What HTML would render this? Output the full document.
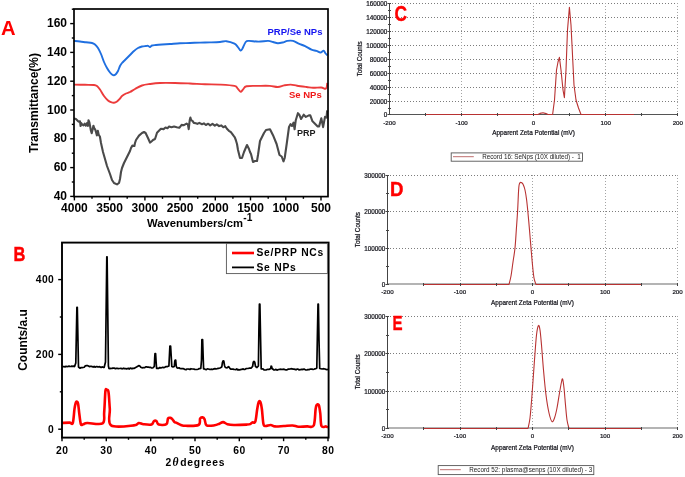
<!DOCTYPE html>
<html><head><meta charset="utf-8"><style>
html,body{margin:0;padding:0;background:#fff;width:685px;height:477px;overflow:hidden;}
svg{display:block;will-change:transform;}
</style></head><body>
<svg width="685" height="477" viewBox="0 0 685 477">
<g id="A">
<text x="1" y="35.3" fill="#ff0000" font-size="20.2" font-weight="bold" font-family="Liberation Sans, sans-serif">A</text>
<polyline points="74.0,118.4 75.9,119.0 77.7,120.8 78.8,121.6 80.0,121.3 80.6,126.0 81.2,123.1 82.3,124.6 83.5,125.4 84.7,123.7 85.8,125.7 87.0,123.1 87.9,126.0 88.5,120.2 89.4,122.5 90.2,126.6 90.8,130.1 91.7,133.3 92.6,129.5 93.4,125.7 94.3,128.4 95.2,129.5 96.1,132.4 96.9,135.4 97.8,130.7 98.7,134.8 99.9,136.5 101.0,143.0 103.0,152.0 105.0,159.0 107.0,166.0 110.0,174.0 112.0,180.0 114.0,183.0 117.0,184.4 119.0,183.0 120.0,179.0 121.0,172.0 122.0,168.0 124.0,163.0 127.0,157.0 130.0,151.0 131.0,148.0 132.4,145.6 134.4,146.0 135.0,143.0 136.0,140.0 139.0,135.6 142.0,133.0 144.0,132.0 145.6,133.0 148.0,138.0 150.0,142.6 152.0,141.0 153.0,140.0 155.0,139.0 156.0,136.0 157.0,132.8 160.9,128.8 163.6,129.1 165.5,127.5 167.5,128.2 169.1,126.5 171.4,127.2 174.1,126.5 176.7,127.2 179.3,127.8 181.6,124.9 183.9,125.2 186.6,123.6 187.9,124.5 188.7,129.1 189.7,120.3 190.4,117.6 191.2,120.3 192.5,120.9 193.8,122.9 195.8,123.2 197.4,123.9 199.3,122.9 202.0,124.2 203.9,123.4 205.9,125.0 208.2,123.7 210.2,125.4 212.5,123.9 214.8,125.7 216.8,124.3 219.1,126.1 221.4,125.4 223.3,127.2 225.3,126.2 226.9,128.8 228.9,130.8 230.9,132.1 232.2,133.8 233.5,135.7 234.8,137.4 235.8,140.0 237.0,144.0 238.0,150.0 240.0,158.0 242.0,158.0 244.0,152.0 247.0,145.0 249.0,149.0 250.0,152.0 251.0,154.0 253.0,162.0 255.0,161.0 257.0,161.0 258.0,155.0 260.0,141.0 262.0,137.0 264.0,133.0 266.0,130.0 270.0,129.3 273.0,135.2 276.6,144.0 279.5,155.0 281.7,156.5 283.5,161.3 284.7,158.0 286.9,142.5 289.0,127.0 290.5,124.2 292.0,126.0 293.5,122.7 294.6,129.3 295.7,120.5 297.9,113.2 299.3,114.7 301.1,119.0 303.7,114.7 305.9,116.9 308.9,115.4 310.3,115.4 312.5,121.3 314.0,122.7 317.7,126.4 319.1,126.4 321.3,118.3 323.1,127.1 325.0,116.9 326.5,117.6 327.2,110.3" fill="none" stroke="#4a4a4a" stroke-width="2.1" stroke-linejoin="round"/>
<path d="M74.0,84.6 C75.83,84.63 81.67,84.73 85.0,84.8 C88.33,84.87 92.00,84.80 94.0,85.0 C96.00,85.20 96.00,85.25 97.0,86.0 C98.00,86.75 98.83,87.83 100.0,89.5 C101.17,91.17 102.67,94.17 104.0,96.0 C105.33,97.83 106.83,99.47 108.0,100.5 C109.17,101.53 110.00,101.82 111.0,102.2 C112.00,102.58 113.00,102.92 114.0,102.8 C115.00,102.68 116.00,102.22 117.0,101.5 C118.00,100.78 119.17,99.42 120.0,98.5 C120.83,97.58 121.00,96.83 122.0,96.0 C123.00,95.17 124.67,94.17 126.0,93.5 C127.33,92.83 128.50,92.75 130.0,92.0 C131.50,91.25 133.00,90.08 135.0,89.0 C137.00,87.92 139.50,86.33 142.0,85.5 C144.50,84.67 147.00,84.42 150.0,84.0 C153.00,83.58 155.83,83.17 160.0,83.0 C164.17,82.83 170.00,82.92 175.0,83.0 C180.00,83.08 185.00,83.30 190.0,83.5 C195.00,83.70 200.00,84.02 205.0,84.2 C210.00,84.38 215.08,84.32 220.0,84.6 C224.92,84.88 231.55,85.23 234.5,85.9 C237.45,86.57 236.68,87.62 237.7,88.6 C238.72,89.58 239.67,91.72 240.6,91.8 C241.53,91.88 242.32,90.03 243.3,89.1 C244.28,88.17 243.97,86.73 246.5,86.2 C249.03,85.67 254.62,85.95 258.5,85.9 C262.38,85.85 266.58,85.72 269.8,85.9 C273.02,86.08 275.40,87.08 277.8,87.0 C280.20,86.92 282.05,85.80 284.2,85.4 C286.35,85.00 288.55,84.55 290.7,84.6 C292.85,84.65 294.43,85.30 297.1,85.7 C299.77,86.10 304.03,86.65 306.7,87.0 C309.37,87.35 310.68,87.72 313.1,87.8 C315.52,87.88 319.05,87.37 321.2,87.5 C323.35,87.63 324.98,89.35 326.0,88.6 C327.02,87.85 327.08,83.93 327.3,83.0" fill="none" stroke="#ec3b3b" stroke-width="1.9" stroke-linejoin="round"/>
<path d="M74.0,41.0 C75.00,41.08 78.00,41.28 80.0,41.5 C82.00,41.72 84.00,42.05 86.0,42.3 C88.00,42.55 90.50,42.63 92.0,43.0 C93.50,43.37 94.00,43.67 95.0,44.5 C96.00,45.33 97.00,46.42 98.0,48.0 C99.00,49.58 100.00,51.67 101.0,54.0 C102.00,56.33 103.00,59.67 104.0,62.0 C105.00,64.33 106.00,66.25 107.0,68.0 C108.00,69.75 109.17,71.42 110.0,72.5 C110.83,73.58 111.33,74.05 112.0,74.5 C112.67,74.95 113.33,75.28 114.0,75.2 C114.67,75.12 115.33,74.70 116.0,74.0 C116.67,73.30 117.33,72.33 118.0,71.0 C118.67,69.67 119.33,67.33 120.0,66.0 C120.67,64.67 121.17,64.00 122.0,63.0 C122.83,62.00 124.00,61.00 125.0,60.0 C126.00,59.00 127.00,58.00 128.0,57.0 C129.00,56.00 130.00,55.00 131.0,54.0 C132.00,53.00 132.83,52.00 134.0,51.0 C135.17,50.00 136.67,48.75 138.0,48.0 C139.33,47.25 140.67,46.83 142.0,46.5 C143.33,46.17 145.00,46.12 146.0,46.0 C147.00,45.88 147.33,45.63 148.0,45.8 C148.67,45.97 149.33,47.05 150.0,47.0 C150.67,46.95 151.00,45.83 152.0,45.5 C153.00,45.17 154.33,45.17 156.0,45.0 C157.67,44.83 159.67,44.67 162.0,44.5 C164.33,44.33 167.00,44.20 170.0,44.0 C173.00,43.80 176.67,43.47 180.0,43.3 C183.33,43.13 186.67,43.12 190.0,43.0 C193.33,42.88 196.67,42.70 200.0,42.6 C203.33,42.50 206.67,42.50 210.0,42.4 C213.33,42.30 217.27,42.20 220.0,42.0 C222.73,41.80 223.98,40.92 226.4,41.2 C228.82,41.48 232.62,42.75 234.5,43.7 C236.38,44.65 236.68,45.75 237.7,46.9 C238.72,48.05 239.80,50.33 240.6,50.6 C241.40,50.87 241.65,49.93 242.5,48.5 C243.35,47.07 244.63,43.27 245.7,42.0 C246.77,40.73 246.77,40.97 248.9,40.9 C251.03,40.83 255.28,41.60 258.5,41.6 C261.72,41.60 265.78,40.83 268.2,40.9 C270.62,40.97 271.40,41.62 273.0,42.0 C274.60,42.38 276.20,43.12 277.8,43.2 C279.40,43.28 281.00,42.88 282.6,42.5 C284.20,42.12 285.67,41.17 287.4,40.9 C289.13,40.63 291.12,40.43 293.0,40.9 C294.88,41.37 296.68,42.83 298.7,43.7 C300.72,44.57 302.97,45.12 305.1,46.1 C307.23,47.08 309.62,48.80 311.5,49.6 C313.38,50.40 314.92,50.42 316.4,50.9 C317.88,51.38 319.20,52.55 320.4,52.5 C321.60,52.45 322.80,50.52 323.6,50.6 C324.40,50.68 324.58,52.20 325.2,53.0 C325.82,53.80 326.95,55.00 327.3,55.4" fill="none" stroke="#1f6fe0" stroke-width="1.9" stroke-linejoin="round"/>
<rect x="74.0" y="9.0" width="254.0" height="187.6" fill="none" stroke="#000" stroke-width="1.7"/>
<line x1="70.2" y1="196.4" x2="74.0" y2="196.4" stroke="#000" stroke-width="1.4"/>
<text x="67" y="200.0" text-anchor="end" font-size="12" font-weight="bold" font-family="Liberation Sans, sans-serif">40</text>
<line x1="71.8" y1="182.0" x2="74.0" y2="182.0" stroke="#000" stroke-width="1.4"/>
<line x1="70.2" y1="167.6" x2="74.0" y2="167.6" stroke="#000" stroke-width="1.4"/>
<text x="67" y="171.2" text-anchor="end" font-size="12" font-weight="bold" font-family="Liberation Sans, sans-serif">60</text>
<line x1="71.8" y1="153.2" x2="74.0" y2="153.2" stroke="#000" stroke-width="1.4"/>
<line x1="70.2" y1="138.8" x2="74.0" y2="138.8" stroke="#000" stroke-width="1.4"/>
<text x="67" y="142.4" text-anchor="end" font-size="12" font-weight="bold" font-family="Liberation Sans, sans-serif">80</text>
<line x1="71.8" y1="124.4" x2="74.0" y2="124.4" stroke="#000" stroke-width="1.4"/>
<line x1="70.2" y1="110.0" x2="74.0" y2="110.0" stroke="#000" stroke-width="1.4"/>
<text x="67" y="113.6" text-anchor="end" font-size="12" font-weight="bold" font-family="Liberation Sans, sans-serif">100</text>
<line x1="71.8" y1="95.6" x2="74.0" y2="95.6" stroke="#000" stroke-width="1.4"/>
<line x1="70.2" y1="81.2" x2="74.0" y2="81.2" stroke="#000" stroke-width="1.4"/>
<text x="67" y="84.8" text-anchor="end" font-size="12" font-weight="bold" font-family="Liberation Sans, sans-serif">120</text>
<line x1="71.8" y1="66.8" x2="74.0" y2="66.8" stroke="#000" stroke-width="1.4"/>
<line x1="70.2" y1="52.4" x2="74.0" y2="52.4" stroke="#000" stroke-width="1.4"/>
<text x="67" y="56.0" text-anchor="end" font-size="12" font-weight="bold" font-family="Liberation Sans, sans-serif">140</text>
<line x1="71.8" y1="38.0" x2="74.0" y2="38.0" stroke="#000" stroke-width="1.4"/>
<line x1="70.2" y1="23.6" x2="74.0" y2="23.6" stroke="#000" stroke-width="1.4"/>
<text x="67" y="27.2" text-anchor="end" font-size="12" font-weight="bold" font-family="Liberation Sans, sans-serif">160</text>
<line x1="71.8" y1="9.2" x2="74.0" y2="9.2" stroke="#000" stroke-width="1.4"/>
<line x1="74.4" y1="196.6" x2="74.4" y2="200.4" stroke="#000" stroke-width="1.4"/>
<text x="74.4" y="211.8" text-anchor="middle" font-size="12" font-weight="bold" font-family="Liberation Sans, sans-serif">4000</text>
<line x1="92.0" y1="196.6" x2="92.0" y2="198.8" stroke="#000" stroke-width="1.4"/>
<line x1="109.6" y1="196.6" x2="109.6" y2="200.4" stroke="#000" stroke-width="1.4"/>
<text x="109.6" y="211.8" text-anchor="middle" font-size="12" font-weight="bold" font-family="Liberation Sans, sans-serif">3500</text>
<line x1="127.2" y1="196.6" x2="127.2" y2="198.8" stroke="#000" stroke-width="1.4"/>
<line x1="144.9" y1="196.6" x2="144.9" y2="200.4" stroke="#000" stroke-width="1.4"/>
<text x="144.9" y="211.8" text-anchor="middle" font-size="12" font-weight="bold" font-family="Liberation Sans, sans-serif">3000</text>
<line x1="162.5" y1="196.6" x2="162.5" y2="198.8" stroke="#000" stroke-width="1.4"/>
<line x1="180.1" y1="196.6" x2="180.1" y2="200.4" stroke="#000" stroke-width="1.4"/>
<text x="180.1" y="211.8" text-anchor="middle" font-size="12" font-weight="bold" font-family="Liberation Sans, sans-serif">2500</text>
<line x1="197.7" y1="196.6" x2="197.7" y2="198.8" stroke="#000" stroke-width="1.4"/>
<line x1="215.3" y1="196.6" x2="215.3" y2="200.4" stroke="#000" stroke-width="1.4"/>
<text x="215.3" y="211.8" text-anchor="middle" font-size="12" font-weight="bold" font-family="Liberation Sans, sans-serif">2000</text>
<line x1="232.9" y1="196.6" x2="232.9" y2="198.8" stroke="#000" stroke-width="1.4"/>
<line x1="250.5" y1="196.6" x2="250.5" y2="200.4" stroke="#000" stroke-width="1.4"/>
<text x="250.5" y="211.8" text-anchor="middle" font-size="12" font-weight="bold" font-family="Liberation Sans, sans-serif">1500</text>
<line x1="268.2" y1="196.6" x2="268.2" y2="198.8" stroke="#000" stroke-width="1.4"/>
<line x1="285.8" y1="196.6" x2="285.8" y2="200.4" stroke="#000" stroke-width="1.4"/>
<text x="285.8" y="211.8" text-anchor="middle" font-size="12" font-weight="bold" font-family="Liberation Sans, sans-serif">1000</text>
<line x1="303.4" y1="196.6" x2="303.4" y2="198.8" stroke="#000" stroke-width="1.4"/>
<line x1="321.0" y1="196.6" x2="321.0" y2="200.4" stroke="#000" stroke-width="1.4"/>
<text x="321.0" y="211.8" text-anchor="middle" font-size="12" font-weight="bold" font-family="Liberation Sans, sans-serif">500</text>
<text x="147" y="227.4" font-size="11.2" font-weight="bold" font-family="Liberation Sans, sans-serif" textLength="96" lengthAdjust="spacingAndGlyphs">Wavenumbers/cm</text>
<text x="243.3" y="221.0" font-size="10.2" font-weight="bold" font-family="Liberation Sans, sans-serif">-1</text>
<text transform="translate(37.6,103) rotate(-90)" text-anchor="middle" font-size="12" font-weight="bold" font-family="Liberation Sans, sans-serif">Transmittance(%)</text>
<text x="267.5" y="34.9" fill="#1414f0" font-size="9.5" font-weight="bold" font-family="Liberation Sans, sans-serif">PRP/Se NPs</text>
<text x="289" y="97.8" fill="#f01818" font-size="9.5" font-weight="bold" font-family="Liberation Sans, sans-serif">Se NPs</text>
<text x="296.9" y="135.8" fill="#1a1a1a" font-size="9" font-weight="bold" font-family="Liberation Sans, sans-serif">PRP</text>
</g>
<g id="B">
<text transform="translate(13.4,260.9) scale(0.79,1)" fill="#ff0000" stroke="#ff0000" stroke-width="0.5" font-size="20.8" font-weight="bold" font-family="Liberation Sans, sans-serif">B</text>
<path d="M62.0,423.0 C63.27,422.93 67.80,422.60 69.6,422.6 C71.40,422.60 71.98,425.28 72.8,423.0 C73.62,420.72 73.97,412.37 74.5,408.9 C75.03,405.43 75.42,403.13 76.0,402.2 C76.58,401.27 77.45,401.38 78.0,403.3 C78.55,405.22 78.82,410.22 79.3,413.7 C79.78,417.18 80.23,422.45 80.9,424.2 C81.57,425.95 82.23,424.40 83.3,424.2 C84.37,424.00 84.08,423.13 87.3,423.0 C90.52,422.87 99.78,425.22 102.6,423.4 C105.42,421.58 103.73,417.47 104.2,412.1 C104.67,406.73 105.00,394.88 105.4,391.2 C105.80,387.52 106.08,389.87 106.6,390.0 C107.12,390.13 107.97,388.85 108.5,392.0 C109.03,395.15 109.37,403.33 109.8,408.9 C110.23,414.47 107.08,422.65 111.1,425.4 C115.12,428.15 129.30,425.80 133.9,425.4 C138.50,425.00 137.10,423.20 138.7,423.0 C140.30,422.80 141.37,423.95 143.5,424.2 C145.63,424.45 149.75,425.03 151.5,424.5 C153.25,423.97 153.18,421.58 154.0,421.0 C154.82,420.42 155.60,420.40 156.4,421.0 C157.20,421.60 157.13,424.07 158.8,424.6 C160.47,425.13 164.87,425.22 166.4,424.2 C167.93,423.18 167.33,419.55 168.0,418.5 C168.67,417.45 169.65,417.77 170.4,417.9 C171.15,418.03 171.82,418.60 172.5,419.3 C173.18,420.00 173.90,421.55 174.5,422.1 C175.10,422.65 175.03,422.12 176.1,422.6 C177.17,423.08 179.30,424.47 180.9,425.0 C182.50,425.53 182.77,425.80 185.7,425.8 C188.63,425.80 196.10,426.22 198.5,425.0 C200.90,423.78 199.42,419.77 200.1,418.5 C200.78,417.23 201.85,417.27 202.6,417.4 C203.35,417.53 203.93,417.97 204.6,419.3 C205.27,420.63 204.93,424.40 206.6,425.4 C208.27,426.40 212.47,425.58 214.6,425.3 C216.73,425.02 217.98,424.23 219.4,423.7 C220.82,423.17 221.77,422.02 223.1,422.1 C224.43,422.18 225.60,423.72 227.4,424.2 C229.20,424.68 230.68,424.93 233.9,425.0 C237.12,425.07 243.98,424.75 246.7,424.6 C249.42,424.45 249.25,424.48 250.2,424.1 C251.15,423.72 251.55,422.72 252.4,422.3 C253.25,421.88 254.50,423.78 255.3,421.6 C256.10,419.42 256.63,412.48 257.2,409.2 C257.77,405.92 258.17,403.12 258.7,401.9 C259.23,400.68 259.87,400.68 260.4,401.9 C260.93,403.12 261.40,405.55 261.9,409.2 C262.40,412.85 262.80,421.00 263.4,423.8 C264.00,426.60 264.28,425.80 265.5,426.0 C266.72,426.20 269.12,424.93 270.7,425.0 C272.28,425.07 272.82,426.23 275.0,426.4 C277.18,426.57 280.87,426.15 283.8,426.0 C286.73,425.85 290.17,425.38 292.6,425.5 C295.03,425.62 295.97,426.55 298.4,426.7 C300.83,426.85 304.65,426.60 307.2,426.4 C309.75,426.20 312.30,428.37 313.7,425.5 C315.10,422.63 315.12,412.60 315.6,409.2 C316.08,405.80 316.07,405.78 316.6,405.1 C317.13,404.42 318.18,403.68 318.8,405.1 C319.42,406.52 319.85,410.12 320.3,413.6 C320.75,417.08 320.53,423.87 321.5,426.0 C322.47,428.13 325.02,426.17 326.1,426.4 C327.18,426.63 327.68,427.23 328.0,427.4" fill="none" stroke="#ff0000" stroke-width="2.6" stroke-linejoin="round"/>
<polyline points="62.0,366.9 63.0,366.7 64.0,366.5 65.0,366.9 66.0,366.3 67.0,366.7 68.0,366.5 69.0,366.1 70.0,366.5 70.9,366.5 71.8,366.1 72.7,366.5 73.6,366.1 74.5,366.6 75.8,363.0 76.9,307.3 77.3,307.3 78.5,367.0 80.1,368.2 81.1,367.6 82.0,367.7 83.0,367.5 84.2,367.2 85.3,365.9 86.5,365.7 87.4,365.6 88.4,366.1 89.3,366.6 90.2,366.4 91.2,366.3 92.1,366.6 93.1,367.1 94.1,366.3 95.0,367.2 96.0,366.7 97.0,366.6 98.0,367.0 99.0,366.7 100.1,366.9 101.1,367.5 102.1,366.9 103.2,367.3 104.2,367.3 105.5,362.0 106.8,256.8 107.1,256.8 108.4,366.0 109.0,368.5 109.9,368.6 110.8,368.4 111.8,368.5 112.7,368.1 113.6,368.1 114.5,368.2 115.4,368.7 116.3,368.4 117.2,368.3 118.2,368.6 119.1,368.5 120.0,368.5 120.9,368.3 121.9,368.8 122.8,368.7 123.7,368.2 124.6,368.6 125.6,368.5 126.5,368.9 127.4,368.7 128.3,368.3 129.3,369.0 130.2,368.1 131.1,368.4 132.0,368.8 133.0,368.2 133.9,368.5 135.2,367.7 136.5,367.0 138.7,365.7 139.8,365.9 140.8,367.2 141.9,367.7 142.9,367.8 143.8,367.5 144.8,367.6 145.7,366.9 146.7,366.9 147.6,367.2 148.5,367.2 149.4,367.3 150.4,367.3 151.3,367.8 152.2,368.0 153.1,367.7 154.3,366.5 154.7,358.0 155.0,353.6 155.6,353.6 156.1,362.0 156.6,368.5 157.6,368.3 158.7,368.3 159.7,367.5 160.7,367.9 161.8,367.6 162.8,367.3 163.8,367.7 164.7,367.3 165.7,366.7 166.6,366.6 167.6,366.6 168.9,366.0 169.4,356.0 169.9,346.0 170.6,346.0 171.2,356.0 171.8,366.5 173.0,367.0 174.3,366.5 174.8,361.0 175.2,360.0 175.7,360.0 176.2,366.0 176.9,367.8 177.9,368.2 179.0,367.8 180.0,368.5 181.0,368.7 182.0,368.6 183.0,368.7 184.0,368.9 185.0,369.5 186.0,369.7 187.0,369.0 188.0,369.0 189.0,369.1 190.0,369.5 191.0,368.7 192.0,369.0 193.0,369.0 194.0,369.1 195.0,369.5 196.0,369.5 197.0,369.5 198.0,369.2 198.9,368.7 199.9,368.6 200.8,368.5 201.5,360.0 201.9,339.6 202.6,339.6 203.1,355.0 203.6,369.0 204.5,368.9 205.4,369.5 206.3,369.7 207.3,368.9 208.2,369.0 209.1,369.2 210.0,369.5 211.0,369.2 212.0,369.3 213.0,369.3 214.0,368.9 215.0,368.6 216.0,369.0 217.0,368.7 218.0,368.4 219.0,368.3 220.0,368.0 221.8,367.0 222.4,362.5 223.1,360.8 223.8,361.0 224.5,365.5 225.3,367.5 227.0,367.8 228.6,366.6 230.0,368.5 231.0,369.2 232.0,369.1 233.0,369.1 234.0,369.4 235.0,369.5 235.9,369.7 236.8,369.0 237.7,369.8 238.6,369.7 239.5,369.8 240.5,369.7 241.4,369.3 242.3,369.3 243.2,368.9 244.1,369.5 245.0,369.3 246.0,368.7 247.0,368.5 248.0,368.5 249.0,368.2 250.0,368.2 251.0,368.2 252.6,366.5 253.3,362.0 254.0,361.3 254.7,362.0 255.5,366.5 257.0,367.5 258.4,366.0 258.9,330.0 259.4,304.2 259.9,304.2 260.6,340.0 261.2,369.0 262.1,368.8 263.1,369.0 264.0,369.8 266.0,370.0 267.0,369.5 268.0,369.3 269.0,369.5 270.7,368.5 271.1,366.2 271.6,366.4 272.1,368.5 274.0,370.0 275.0,369.8 276.0,369.3 277.0,370.1 278.0,369.7 279.0,369.5 280.0,369.2 281.0,369.3 282.0,369.4 283.0,369.4 284.0,369.2 285.0,369.6 286.0,369.8 287.0,369.9 288.0,369.2 289.0,369.1 290.0,369.0 291.0,368.7 292.0,368.8 293.0,369.1 294.0,369.1 295.0,369.4 296.0,369.8 297.0,369.1 298.0,369.0 299.0,370.0 300.0,369.6 301.0,369.6 302.0,369.2 303.0,369.6 304.0,369.1 305.0,369.6 306.0,370.0 307.0,369.9 308.0,369.5 309.0,369.6 310.0,369.2 311.0,369.2 312.0,369.0 313.0,369.5 314.0,369.2 314.9,368.8 315.9,368.7 316.8,368.0 317.5,330.0 318.0,304.2 318.4,304.2 319.0,340.0 319.7,368.5 322.0,369.0 323.0,368.8 324.0,368.7 325.0,369.0 326.0,369.4 327.0,369.6 328.0,369.2" fill="none" stroke="#000" stroke-width="1.7" stroke-linejoin="round"/>
<rect x="62.0" y="242.6" width="266.6" height="195.00000000000003" fill="none" stroke="#000" stroke-width="1.9"/>
<line x1="58.2" y1="429.2" x2="62.0" y2="429.2" stroke="#000" stroke-width="1.4"/>
<text x="54.2" y="432.9" text-anchor="end" font-size="10.3" font-weight="bold" letter-spacing="0.4" font-family="Liberation Sans, sans-serif">0</text>
<line x1="59.8" y1="391.8" x2="62.0" y2="391.8" stroke="#000" stroke-width="1.4"/>
<line x1="58.2" y1="354.4" x2="62.0" y2="354.4" stroke="#000" stroke-width="1.4"/>
<text x="54.2" y="358.1" text-anchor="end" font-size="10.3" font-weight="bold" letter-spacing="0.4" font-family="Liberation Sans, sans-serif">200</text>
<line x1="59.8" y1="317.0" x2="62.0" y2="317.0" stroke="#000" stroke-width="1.4"/>
<line x1="58.2" y1="279.6" x2="62.0" y2="279.6" stroke="#000" stroke-width="1.4"/>
<text x="54.2" y="283.3" text-anchor="end" font-size="10.3" font-weight="bold" letter-spacing="0.4" font-family="Liberation Sans, sans-serif">400</text>
<line x1="62.0" y1="437.6" x2="62.0" y2="441.2" stroke="#000" stroke-width="1.4"/>
<text x="62.2" y="453.5" text-anchor="middle" font-size="10.3" font-weight="bold" letter-spacing="0.4" font-family="Liberation Sans, sans-serif">20</text>
<line x1="84.2" y1="437.6" x2="84.2" y2="439.8" stroke="#000" stroke-width="1.4"/>
<line x1="106.3" y1="437.6" x2="106.3" y2="441.2" stroke="#000" stroke-width="1.4"/>
<text x="106.5" y="453.5" text-anchor="middle" font-size="10.3" font-weight="bold" letter-spacing="0.4" font-family="Liberation Sans, sans-serif">30</text>
<line x1="128.5" y1="437.6" x2="128.5" y2="439.8" stroke="#000" stroke-width="1.4"/>
<line x1="150.7" y1="437.6" x2="150.7" y2="441.2" stroke="#000" stroke-width="1.4"/>
<text x="150.9" y="453.5" text-anchor="middle" font-size="10.3" font-weight="bold" letter-spacing="0.4" font-family="Liberation Sans, sans-serif">40</text>
<line x1="172.8" y1="437.6" x2="172.8" y2="439.8" stroke="#000" stroke-width="1.4"/>
<line x1="195.0" y1="437.6" x2="195.0" y2="441.2" stroke="#000" stroke-width="1.4"/>
<text x="195.2" y="453.5" text-anchor="middle" font-size="10.3" font-weight="bold" letter-spacing="0.4" font-family="Liberation Sans, sans-serif">50</text>
<line x1="217.2" y1="437.6" x2="217.2" y2="439.8" stroke="#000" stroke-width="1.4"/>
<line x1="239.3" y1="437.6" x2="239.3" y2="441.2" stroke="#000" stroke-width="1.4"/>
<text x="239.5" y="453.5" text-anchor="middle" font-size="10.3" font-weight="bold" letter-spacing="0.4" font-family="Liberation Sans, sans-serif">60</text>
<line x1="261.5" y1="437.6" x2="261.5" y2="439.8" stroke="#000" stroke-width="1.4"/>
<line x1="283.6" y1="437.6" x2="283.6" y2="441.2" stroke="#000" stroke-width="1.4"/>
<text x="283.8" y="453.5" text-anchor="middle" font-size="10.3" font-weight="bold" letter-spacing="0.4" font-family="Liberation Sans, sans-serif">70</text>
<line x1="305.8" y1="437.6" x2="305.8" y2="439.8" stroke="#000" stroke-width="1.4"/>
<line x1="328.0" y1="437.6" x2="328.0" y2="441.2" stroke="#000" stroke-width="1.4"/>
<text x="328.2" y="453.5" text-anchor="middle" font-size="10.3" font-weight="bold" letter-spacing="0.4" font-family="Liberation Sans, sans-serif">80</text>
<text x="165.6" y="465.8" font-size="10.3" font-weight="bold" font-family="Liberation Sans, sans-serif">2</text>
<text x="172.6" y="465.8" font-size="11.6" font-style="italic" font-weight="bold" font-family="Liberation Serif, serif">θ</text>
<text x="180.2" y="465.8" font-size="10.3" font-weight="bold" letter-spacing="0.8" font-family="Liberation Sans, sans-serif">degrees</text>
<text transform="translate(27.2,340) rotate(-90)" text-anchor="middle" font-size="11.9" font-weight="bold" font-family="Liberation Sans, sans-serif">Counts/a.u</text>
<rect x="226.4" y="243.6" width="101" height="30" fill="#fff" stroke="#555" stroke-width="0.9"/>
<line x1="232" y1="253" x2="254" y2="253" stroke="#ff0000" stroke-width="2.6"/>
<line x1="232" y1="267.4" x2="254" y2="267.4" stroke="#000" stroke-width="1.8"/>
<text x="256.4" y="256.2" font-size="10.3" font-weight="bold" letter-spacing="0.78" font-family="Liberation Sans, sans-serif">Se/PRP NCs</text>
<text x="256.4" y="270.8" font-size="10.3" font-weight="bold" letter-spacing="0.78" font-family="Liberation Sans, sans-serif">Se NPs</text>
</g>
<g id="C">
<line x1="389" y1="101.5" x2="677.8" y2="101.5" stroke="#7c7c7c" stroke-width="1" stroke-dasharray="1 2"/>
<line x1="389" y1="87.5" x2="677.8" y2="87.5" stroke="#7c7c7c" stroke-width="1" stroke-dasharray="1 2"/>
<line x1="389" y1="73.5" x2="677.8" y2="73.5" stroke="#7c7c7c" stroke-width="1" stroke-dasharray="1 2"/>
<line x1="389" y1="59.5" x2="677.8" y2="59.5" stroke="#7c7c7c" stroke-width="1" stroke-dasharray="1 2"/>
<line x1="389" y1="45.5" x2="677.8" y2="45.5" stroke="#7c7c7c" stroke-width="1" stroke-dasharray="1 2"/>
<line x1="389" y1="31.5" x2="677.8" y2="31.5" stroke="#7c7c7c" stroke-width="1" stroke-dasharray="1 2"/>
<line x1="389" y1="17.5" x2="677.8" y2="17.5" stroke="#7c7c7c" stroke-width="1" stroke-dasharray="1 2"/>
<line x1="389" y1="3.5" x2="677.8" y2="3.5" stroke="#7c7c7c" stroke-width="1" stroke-dasharray="1 2"/>
<line x1="461.5" y1="3" x2="461.5" y2="114.5" stroke="#a4a4a4" stroke-width="1" stroke-dasharray="1 2"/>
<line x1="533.5" y1="3" x2="533.5" y2="114.5" stroke="#a4a4a4" stroke-width="1" stroke-dasharray="1 2"/>
<line x1="605.5" y1="3" x2="605.5" y2="114.5" stroke="#a4a4a4" stroke-width="1" stroke-dasharray="1 2"/>
<line x1="677.5" y1="3" x2="677.5" y2="114.5" stroke="#a4a4a4" stroke-width="1" stroke-dasharray="1 2"/>
<line x1="389.5" y1="114.5" x2="677.8" y2="114.5" stroke="#555" stroke-width="1"/>
<path d="M425.6,114.5 538.0,114.5 540.0,113.4 543.0,112.8 546.0,113.6 548.0,114.5 552.6,114.5 554.5,100.0 556.5,70.0 558.0,62.0 559.4,57.4 561.0,70.0 563.0,90.0 564.4,97.6 566.0,70.0 567.5,30.0 569.4,7.4 571.0,25.0 572.5,55.0 574.0,85.0 576.0,100.0 578.5,108.0 581.0,114.5 634.0,114.5" fill="none" stroke="#b83232" stroke-width="1.1" stroke-linejoin="round"/>
<line x1="425.5" y1="113.0" x2="425.5" y2="116.0" stroke="#444" stroke-width="1"/>
<line x1="461.5" y1="113.0" x2="461.5" y2="116.0" stroke="#444" stroke-width="1"/>
<line x1="497.5" y1="113.0" x2="497.5" y2="116.0" stroke="#444" stroke-width="1"/>
<line x1="533.5" y1="113.0" x2="533.5" y2="116.0" stroke="#444" stroke-width="1"/>
<line x1="569.5" y1="113.0" x2="569.5" y2="116.0" stroke="#444" stroke-width="1"/>
<line x1="605.5" y1="113.0" x2="605.5" y2="116.0" stroke="#444" stroke-width="1"/>
<line x1="641.5" y1="113.0" x2="641.5" y2="116.0" stroke="#444" stroke-width="1"/>
<line x1="677.5" y1="113.0" x2="677.5" y2="116.0" stroke="#444" stroke-width="1"/>
<line x1="389.5" y1="3.0" x2="389.5" y2="115.0" stroke="#444" stroke-width="1"/>
<line x1="387.5" y1="114.5" x2="391.0" y2="114.5" stroke="#444" stroke-width="1"/>
<text x="387.4" y="116.7" text-anchor="end" font-size="6.35" fill="#15151c" stroke="#15151c" stroke-width="0.22" font-family="Liberation Sans, sans-serif">0</text>
<line x1="388.0" y1="108.5" x2="391.0" y2="108.5" stroke="#444" stroke-width="1"/>
<line x1="387.5" y1="101.5" x2="391.0" y2="101.5" stroke="#444" stroke-width="1"/>
<text x="387.4" y="103.7" text-anchor="end" font-size="6.35" fill="#15151c" stroke="#15151c" stroke-width="0.22" font-family="Liberation Sans, sans-serif">20000</text>
<line x1="388.0" y1="94.5" x2="391.0" y2="94.5" stroke="#444" stroke-width="1"/>
<line x1="387.5" y1="87.5" x2="391.0" y2="87.5" stroke="#444" stroke-width="1"/>
<text x="387.4" y="89.7" text-anchor="end" font-size="6.35" fill="#15151c" stroke="#15151c" stroke-width="0.22" font-family="Liberation Sans, sans-serif">40000</text>
<line x1="388.0" y1="80.5" x2="391.0" y2="80.5" stroke="#444" stroke-width="1"/>
<line x1="387.5" y1="73.5" x2="391.0" y2="73.5" stroke="#444" stroke-width="1"/>
<text x="387.4" y="75.7" text-anchor="end" font-size="6.35" fill="#15151c" stroke="#15151c" stroke-width="0.22" font-family="Liberation Sans, sans-serif">60000</text>
<line x1="388.0" y1="66.5" x2="391.0" y2="66.5" stroke="#444" stroke-width="1"/>
<line x1="387.5" y1="59.5" x2="391.0" y2="59.5" stroke="#444" stroke-width="1"/>
<text x="387.4" y="61.7" text-anchor="end" font-size="6.35" fill="#15151c" stroke="#15151c" stroke-width="0.22" font-family="Liberation Sans, sans-serif">80000</text>
<line x1="388.0" y1="52.5" x2="391.0" y2="52.5" stroke="#444" stroke-width="1"/>
<line x1="387.5" y1="45.5" x2="391.0" y2="45.5" stroke="#444" stroke-width="1"/>
<text x="387.4" y="47.7" text-anchor="end" font-size="6.35" fill="#15151c" stroke="#15151c" stroke-width="0.22" font-family="Liberation Sans, sans-serif">100000</text>
<line x1="388.0" y1="38.5" x2="391.0" y2="38.5" stroke="#444" stroke-width="1"/>
<line x1="387.5" y1="31.5" x2="391.0" y2="31.5" stroke="#444" stroke-width="1"/>
<text x="387.4" y="33.7" text-anchor="end" font-size="6.35" fill="#15151c" stroke="#15151c" stroke-width="0.22" font-family="Liberation Sans, sans-serif">120000</text>
<line x1="388.0" y1="24.5" x2="391.0" y2="24.5" stroke="#444" stroke-width="1"/>
<line x1="387.5" y1="17.5" x2="391.0" y2="17.5" stroke="#444" stroke-width="1"/>
<text x="387.4" y="19.7" text-anchor="end" font-size="6.35" fill="#15151c" stroke="#15151c" stroke-width="0.22" font-family="Liberation Sans, sans-serif">140000</text>
<line x1="388.0" y1="10.5" x2="391.0" y2="10.5" stroke="#444" stroke-width="1"/>
<line x1="387.5" y1="3.5" x2="391.0" y2="3.5" stroke="#444" stroke-width="1"/>
<text x="387.4" y="5.7" text-anchor="end" font-size="6.35" fill="#15151c" stroke="#15151c" stroke-width="0.22" font-family="Liberation Sans, sans-serif">160000</text>
<text x="389.5" y="125.0" text-anchor="middle" font-size="6.2" fill="#15151c" stroke="#15151c" stroke-width="0.22" font-family="Liberation Sans, sans-serif">-200</text>
<text x="461.6" y="125.0" text-anchor="middle" font-size="6.2" fill="#15151c" stroke="#15151c" stroke-width="0.22" font-family="Liberation Sans, sans-serif">-100</text>
<text x="533.6" y="125.0" text-anchor="middle" font-size="6.2" fill="#15151c" stroke="#15151c" stroke-width="0.22" font-family="Liberation Sans, sans-serif">0</text>
<text x="605.7" y="125.0" text-anchor="middle" font-size="6.2" fill="#15151c" stroke="#15151c" stroke-width="0.22" font-family="Liberation Sans, sans-serif">100</text>
<text x="677.8" y="125.0" text-anchor="middle" font-size="6.2" fill="#15151c" stroke="#15151c" stroke-width="0.22" font-family="Liberation Sans, sans-serif">200</text>
<text x="533.6" y="135.4" text-anchor="middle" font-size="6.4" fill="#15151c" stroke="#15151c" stroke-width="0.22" font-family="Liberation Sans, sans-serif">Apparent Zeta Potential (mV)</text>
<text transform="translate(362.4,58.8) rotate(-90)" text-anchor="middle" font-size="6.3" fill="#15151c" stroke="#15151c" stroke-width="0.22" font-family="Liberation Sans, sans-serif">Total Counts</text>
<text transform="translate(394.6,20.6) scale(0.8,1)" fill="#ff0000" stroke="#ff0000" stroke-width="0.4" font-size="21.7" font-weight="bold" font-family="Liberation Sans, sans-serif">C</text>
<rect x="451.2" y="152.9" width="131.3" height="8.299999999999983" fill="#fff" stroke="#555" stroke-width="0.9"/>
<line x1="453.0" y1="156.7" x2="473.8" y2="156.7" stroke="#b86060" stroke-width="0.9"/>
<text x="482.2" y="159.0" font-size="6.3" fill="#222" xml:space="preserve" textLength="98.5" font-family="Liberation Sans, sans-serif">Record 16: SeNps (10X diluted) -  1</text>
</g>
<g id="D">
<line x1="387" y1="248.5" x2="677.6" y2="248.5" stroke="#7c7c7c" stroke-width="1" stroke-dasharray="1 2"/>
<line x1="387" y1="211.5" x2="677.6" y2="211.5" stroke="#7c7c7c" stroke-width="1" stroke-dasharray="1 2"/>
<line x1="387" y1="175.5" x2="677.6" y2="175.5" stroke="#7c7c7c" stroke-width="1" stroke-dasharray="1 2"/>
<line x1="460.5" y1="175" x2="460.5" y2="284.5" stroke="#a4a4a4" stroke-width="1" stroke-dasharray="1 2"/>
<line x1="532.5" y1="175" x2="532.5" y2="284.5" stroke="#a4a4a4" stroke-width="1" stroke-dasharray="1 2"/>
<line x1="605.5" y1="175" x2="605.5" y2="284.5" stroke="#a4a4a4" stroke-width="1" stroke-dasharray="1 2"/>
<line x1="677.5" y1="175" x2="677.5" y2="284.5" stroke="#a4a4a4" stroke-width="1" stroke-dasharray="1 2"/>
<line x1="387.5" y1="284.0" x2="677.6" y2="284.0" stroke="#b4b4b4" stroke-width="2"/>
<path d="M424.0,284.5 L509.0,284.5 C509.33,283.08 510.33,279.75 511.0,276.0 C511.67,272.25 512.33,266.67 513.0,262.0 C513.67,257.33 514.45,253.33 515.0,248.0 C515.55,242.67 515.87,236.17 516.3,230.0 C516.73,223.83 517.23,217.33 517.6,211.0 C517.97,204.67 518.25,196.33 518.5,192.0 C518.75,187.67 518.80,186.58 519.1,185.0 C519.40,183.42 519.85,182.87 520.3,182.5 C520.75,182.13 521.28,182.38 521.8,182.8 C522.32,183.22 522.87,183.80 523.4,185.0 C523.93,186.20 524.48,187.67 525.0,190.0 C525.52,192.33 526.03,195.50 526.5,199.0 C526.97,202.50 527.30,205.83 527.8,211.0 C528.30,216.17 528.97,223.83 529.5,230.0 C530.03,236.17 530.50,242.17 531.0,248.0 C531.50,253.83 532.00,260.00 532.5,265.0 C533.00,270.00 533.42,274.75 534.0,278.0 C534.58,281.25 535.67,283.42 536.0,284.5 L641.6,284.5" fill="none" stroke="#b83232" stroke-width="1.1" stroke-linejoin="round"/>
<line x1="423.5" y1="283.0" x2="423.5" y2="286.0" stroke="#444" stroke-width="1"/>
<line x1="460.5" y1="283.0" x2="460.5" y2="286.0" stroke="#444" stroke-width="1"/>
<line x1="496.5" y1="283.0" x2="496.5" y2="286.0" stroke="#444" stroke-width="1"/>
<line x1="532.5" y1="283.0" x2="532.5" y2="286.0" stroke="#444" stroke-width="1"/>
<line x1="568.5" y1="283.0" x2="568.5" y2="286.0" stroke="#444" stroke-width="1"/>
<line x1="605.5" y1="283.0" x2="605.5" y2="286.0" stroke="#444" stroke-width="1"/>
<line x1="641.5" y1="283.0" x2="641.5" y2="286.0" stroke="#444" stroke-width="1"/>
<line x1="677.5" y1="283.0" x2="677.5" y2="286.0" stroke="#444" stroke-width="1"/>
<line x1="387.5" y1="175.0" x2="387.5" y2="285.0" stroke="#444" stroke-width="1"/>
<line x1="385.5" y1="284.5" x2="389.0" y2="284.5" stroke="#444" stroke-width="1"/>
<text x="385.4" y="286.7" text-anchor="end" font-size="6.35" fill="#15151c" stroke="#15151c" stroke-width="0.22" font-family="Liberation Sans, sans-serif">0</text>
<line x1="386.0" y1="266.5" x2="389.0" y2="266.5" stroke="#444" stroke-width="1"/>
<line x1="385.5" y1="248.5" x2="389.0" y2="248.5" stroke="#444" stroke-width="1"/>
<text x="385.4" y="250.7" text-anchor="end" font-size="6.35" fill="#15151c" stroke="#15151c" stroke-width="0.22" font-family="Liberation Sans, sans-serif">100000</text>
<line x1="386.0" y1="230.5" x2="389.0" y2="230.5" stroke="#444" stroke-width="1"/>
<line x1="385.5" y1="211.5" x2="389.0" y2="211.5" stroke="#444" stroke-width="1"/>
<text x="385.4" y="213.7" text-anchor="end" font-size="6.35" fill="#15151c" stroke="#15151c" stroke-width="0.22" font-family="Liberation Sans, sans-serif">200000</text>
<line x1="386.0" y1="193.5" x2="389.0" y2="193.5" stroke="#444" stroke-width="1"/>
<line x1="385.5" y1="175.5" x2="389.0" y2="175.5" stroke="#444" stroke-width="1"/>
<text x="385.4" y="177.7" text-anchor="end" font-size="6.35" fill="#15151c" stroke="#15151c" stroke-width="0.22" font-family="Liberation Sans, sans-serif">300000</text>
<text x="387.5" y="294.3" text-anchor="middle" font-size="6.2" fill="#15151c" stroke="#15151c" stroke-width="0.22" font-family="Liberation Sans, sans-serif">-200</text>
<text x="460.0" y="294.3" text-anchor="middle" font-size="6.2" fill="#15151c" stroke="#15151c" stroke-width="0.22" font-family="Liberation Sans, sans-serif">-100</text>
<text x="532.5" y="294.3" text-anchor="middle" font-size="6.2" fill="#15151c" stroke="#15151c" stroke-width="0.22" font-family="Liberation Sans, sans-serif">0</text>
<text x="605.1" y="294.3" text-anchor="middle" font-size="6.2" fill="#15151c" stroke="#15151c" stroke-width="0.22" font-family="Liberation Sans, sans-serif">100</text>
<text x="677.6" y="294.3" text-anchor="middle" font-size="6.2" fill="#15151c" stroke="#15151c" stroke-width="0.22" font-family="Liberation Sans, sans-serif">200</text>
<text x="532.5" y="304.6" text-anchor="middle" font-size="6.4" fill="#15151c" stroke="#15151c" stroke-width="0.22" font-family="Liberation Sans, sans-serif">Apparent Zeta Potential (mV)</text>
<text transform="translate(359.5,229.7) rotate(-90)" text-anchor="middle" font-size="6.3" fill="#15151c" stroke="#15151c" stroke-width="0.22" font-family="Liberation Sans, sans-serif">Total Counts</text>
<text transform="translate(390.0,195.9) scale(0.91,1)" fill="#ff0000" stroke="#ff0000" stroke-width="0.4" font-size="20.5" font-weight="bold" font-family="Liberation Sans, sans-serif">D</text>
</g>
<g id="E">
<line x1="387" y1="391.5" x2="677.6" y2="391.5" stroke="#7c7c7c" stroke-width="1" stroke-dasharray="1 2"/>
<line x1="387" y1="353.5" x2="677.6" y2="353.5" stroke="#7c7c7c" stroke-width="1" stroke-dasharray="1 2"/>
<line x1="387" y1="316.5" x2="677.6" y2="316.5" stroke="#7c7c7c" stroke-width="1" stroke-dasharray="1 2"/>
<line x1="460.5" y1="316" x2="460.5" y2="428.5" stroke="#a4a4a4" stroke-width="1" stroke-dasharray="1 2"/>
<line x1="532.5" y1="316" x2="532.5" y2="428.5" stroke="#a4a4a4" stroke-width="1" stroke-dasharray="1 2"/>
<line x1="605.5" y1="316" x2="605.5" y2="428.5" stroke="#a4a4a4" stroke-width="1" stroke-dasharray="1 2"/>
<line x1="677.5" y1="316" x2="677.5" y2="428.5" stroke="#a4a4a4" stroke-width="1" stroke-dasharray="1 2"/>
<line x1="387.5" y1="428.0" x2="677.6" y2="428.0" stroke="#b4b4b4" stroke-width="2"/>
<path d="M424.0,428.5 L528.0,428.5 C528.33,426.75 529.33,423.58 530.0,418.0 C530.67,412.42 531.25,404.67 532.0,395.0 C532.75,385.33 533.75,370.00 534.5,360.0 C535.25,350.00 535.85,340.73 536.5,335.0 C537.15,329.27 537.82,326.43 538.4,325.6 C538.98,324.77 539.48,326.77 540.0,330.0 C540.52,333.23 540.92,338.33 541.5,345.0 C542.08,351.67 542.75,361.67 543.5,370.0 C544.25,378.33 545.08,387.83 546.0,395.0 C546.92,402.17 548.00,408.57 549.0,413.0 C550.00,417.43 551.08,420.77 552.0,421.6 C552.92,422.43 553.67,420.27 554.5,418.0 C555.33,415.73 556.17,412.17 557.0,408.0 C557.83,403.83 558.75,397.33 559.5,393.0 C560.25,388.67 560.98,384.33 561.5,382.0 C562.02,379.67 562.18,378.00 562.6,379.0 C563.02,380.00 563.52,383.67 564.0,388.0 C564.48,392.33 565.00,399.67 565.5,405.0 C566.00,410.33 566.42,416.08 567.0,420.0 C567.58,423.92 568.67,427.08 569.0,428.5 L641.6,428.5" fill="none" stroke="#b83232" stroke-width="1.1" stroke-linejoin="round"/>
<line x1="423.5" y1="427.0" x2="423.5" y2="430.0" stroke="#444" stroke-width="1"/>
<line x1="460.5" y1="427.0" x2="460.5" y2="430.0" stroke="#444" stroke-width="1"/>
<line x1="496.5" y1="427.0" x2="496.5" y2="430.0" stroke="#444" stroke-width="1"/>
<line x1="532.5" y1="427.0" x2="532.5" y2="430.0" stroke="#444" stroke-width="1"/>
<line x1="568.5" y1="427.0" x2="568.5" y2="430.0" stroke="#444" stroke-width="1"/>
<line x1="605.5" y1="427.0" x2="605.5" y2="430.0" stroke="#444" stroke-width="1"/>
<line x1="641.5" y1="427.0" x2="641.5" y2="430.0" stroke="#444" stroke-width="1"/>
<line x1="677.5" y1="427.0" x2="677.5" y2="430.0" stroke="#444" stroke-width="1"/>
<line x1="387.5" y1="316.0" x2="387.5" y2="429.0" stroke="#444" stroke-width="1"/>
<line x1="385.5" y1="428.5" x2="389.0" y2="428.5" stroke="#444" stroke-width="1"/>
<text x="385.4" y="430.7" text-anchor="end" font-size="6.35" fill="#15151c" stroke="#15151c" stroke-width="0.22" font-family="Liberation Sans, sans-serif">0</text>
<line x1="386.0" y1="409.5" x2="389.0" y2="409.5" stroke="#444" stroke-width="1"/>
<line x1="385.5" y1="391.5" x2="389.0" y2="391.5" stroke="#444" stroke-width="1"/>
<text x="385.4" y="393.7" text-anchor="end" font-size="6.35" fill="#15151c" stroke="#15151c" stroke-width="0.22" font-family="Liberation Sans, sans-serif">100000</text>
<line x1="386.0" y1="372.5" x2="389.0" y2="372.5" stroke="#444" stroke-width="1"/>
<line x1="385.5" y1="353.5" x2="389.0" y2="353.5" stroke="#444" stroke-width="1"/>
<text x="385.4" y="355.7" text-anchor="end" font-size="6.35" fill="#15151c" stroke="#15151c" stroke-width="0.22" font-family="Liberation Sans, sans-serif">200000</text>
<line x1="386.0" y1="335.5" x2="389.0" y2="335.5" stroke="#444" stroke-width="1"/>
<line x1="385.5" y1="316.5" x2="389.0" y2="316.5" stroke="#444" stroke-width="1"/>
<text x="385.4" y="318.7" text-anchor="end" font-size="6.35" fill="#15151c" stroke="#15151c" stroke-width="0.22" font-family="Liberation Sans, sans-serif">300000</text>
<text x="387.5" y="438.4" text-anchor="middle" font-size="6.2" fill="#15151c" stroke="#15151c" stroke-width="0.22" font-family="Liberation Sans, sans-serif">-200</text>
<text x="460.0" y="438.4" text-anchor="middle" font-size="6.2" fill="#15151c" stroke="#15151c" stroke-width="0.22" font-family="Liberation Sans, sans-serif">-100</text>
<text x="532.5" y="438.4" text-anchor="middle" font-size="6.2" fill="#15151c" stroke="#15151c" stroke-width="0.22" font-family="Liberation Sans, sans-serif">0</text>
<text x="605.1" y="438.4" text-anchor="middle" font-size="6.2" fill="#15151c" stroke="#15151c" stroke-width="0.22" font-family="Liberation Sans, sans-serif">100</text>
<text x="677.6" y="438.4" text-anchor="middle" font-size="6.2" fill="#15151c" stroke="#15151c" stroke-width="0.22" font-family="Liberation Sans, sans-serif">200</text>
<text x="532.5" y="449.5" text-anchor="middle" font-size="6.4" fill="#15151c" stroke="#15151c" stroke-width="0.22" font-family="Liberation Sans, sans-serif">Apparent Zeta Potential (mV)</text>
<text transform="translate(360.0,371.8) rotate(-90)" text-anchor="middle" font-size="6.3" fill="#15151c" stroke="#15151c" stroke-width="0.22" font-family="Liberation Sans, sans-serif">Total Counts</text>
<text transform="translate(392.6,330.1) scale(0.72,1)" fill="#ff0000" stroke="#ff0000" stroke-width="0.4" font-size="21" font-weight="bold" font-family="Liberation Sans, sans-serif">E</text>
<rect x="438.2" y="465.6" width="155.59999999999997" height="9.0" fill="#fff" stroke="#555" stroke-width="0.9"/>
<line x1="440.0" y1="469.7" x2="460.8" y2="469.7" stroke="#b86060" stroke-width="0.9"/>
<text x="469.2" y="472.4" font-size="6.3" fill="#222" xml:space="preserve" textLength="123" font-family="Liberation Sans, sans-serif">Record 52: plasma@senps (10X diluted) - 3</text>
</g>
</svg>
</body></html>
